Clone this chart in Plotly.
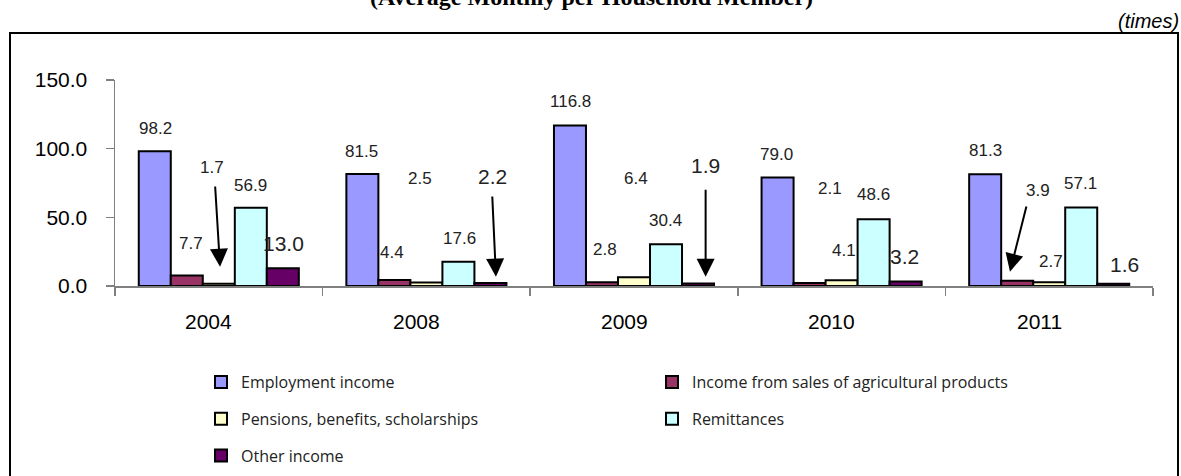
import plotly.graph_objects as go

# ---------------- data ----------------
categories = ["2004", "2008", "2009", "2010", "2011"]
employment = [98.2, 81.5, 116.8, 79.0, 81.3]
agricultural = [7.7, 4.4, 2.8, 2.1, 3.9]
pensions = [1.7, 2.5, 6.4, 4.1, 2.7]
remittances = [56.9, 17.6, 30.4, 48.6, 57.1]
other = [13.0, 2.2, 1.9, 3.2, 1.6]

series_names = [
    "Employment income",
    "Income from sales of agricultural products",
    "Pensions, benefits, scholarships",
    "Remittances",
    "Other income",
]
series_values = [employment, agricultural, pensions, remittances, other]

# ---------------- styles / label positions ----------------
colors = ["#9999FF", "#993366", "#FFFFCC", "#CCFFFF", "#660066"]
legend_ids = ["legend", "legend2", "legend", "legend2", "legend"]

# label placement: offset within category (category units) and y position
label_dx = [
    [-0.307, -0.312, -0.305, -0.316, -0.309],
    [-0.135, -0.165, -0.140, -0.056, -0.052],
    [-0.031, -0.031, 0.010, 0.011, 0.007],
    [0.154, 0.158, 0.154, 0.152, 0.150],
    [0.311, 0.319, 0.345, 0.305, 0.363],
]
label_y = [
    [114.8, 97.8, 134.2, 95.4, 99.0],
    [31.1, 24.3, 26.7, 71.1, 69.9],
    [86.4, 78.4, 78.4, 25.7, 17.7],
    [73.5, 34.7, 47.6, 66.3, 74.3],
    [31.1, 79.6, 87.4, 21.4, 16.0],
]
label_size = [17, 17, 17, 17, 21]

# arrows: (category index, tail dx, tail y, tip dx, tip y)
arrows = [
    (0, -0.018, 73.5, 0.006, 14.0),
    (1, 0.317, 66.3, 0.335, 6.8),
    (2, 0.345, 71.1, 0.345, 6.8),
    (4, -0.108, 59.0, -0.189, 10.4),
]

W, H = 1181, 476

fig = go.Figure()
for name, vals, col, lg in zip(series_names, series_values, colors, legend_ids):
    fig.add_trace(go.Bar(
        x=categories, y=vals, name=name,
        marker=dict(color=col, line=dict(color="black", width=2)),
        legend=lg, legendgroup=name,
        hoverinfo="skip",
    ))

annotations = []
for s, vals in enumerate(series_values):
    for i, v in enumerate(vals):
        annotations.append(dict(
            x=i + label_dx[s][i], y=label_y[s][i], xref="x", yref="y",
            text=f"{v:.1f}", showarrow=False,
            font=dict(family="Liberation Sans, Arial", size=label_size[s], color="#222222"),
        ))

for (i, tdx, ty, hdx, hy) in arrows:
    annotations.append(dict(
        x=i + hdx, y=hy, xref="x", yref="y",
        ax=i + tdx, ay=ty, axref="x", ayref="y",
        text="", showarrow=True, arrowhead=2, arrowsize=1.8,
        arrowwidth=2, arrowcolor="black", standoff=0, startstandoff=0,
    ))

# category labels (placed via annotations, slightly left of center as in reference)
for i, c in enumerate(categories):
    annotations.append(dict(
        x=i, y=0, xref="x", yref="y", yshift=-35, xshift=-10,
        text=c, showarrow=False,
        font=dict(family="Liberation Sans, Arial", size=21, color="black"),
    ))

# title (cut off at the top) and unit
annotations.append(dict(
    x=591 / W, y=1 + 3 / H, xref="paper", yref="paper", xanchor="center", yanchor="middle",
    text="<b>(Average Monthly per Household Member)</b>", showarrow=False,
    font=dict(family="Liberation Serif, Times New Roman", size=24, color="black"),
))
annotations.append(dict(
    x=1181 / W, y=1 - 21 / H, xref="paper", yref="paper", xanchor="right", yanchor="middle",
    text="<i>(times)</i>", showarrow=False,
    font=dict(family="Liberation Sans, Arial", size=20, color="black"),
))

legend_common = dict(
    orientation="v", bgcolor="rgba(0,0,0,0)", borderwidth=0,
    font=dict(family="Open Sans", size=16, color="#222222"),
    tracegroupgap=13, traceorder="grouped",
    xanchor="left", yanchor="top",
)

fig.update_layout(
    width=W, height=H,
    margin=dict(l=0, r=0, t=0, b=0, autoexpand=False),
    paper_bgcolor="white", plot_bgcolor="white",
    barmode="group", bargap=0.229, bargroupgap=0,
    annotations=annotations,
    shapes=[dict(type="rect", xref="paper", yref="paper",
                 x0=10 / W, x1=1178 / W, y0=-0.05, y1=1 - 33 / H,
                 line=dict(color="black", width=2), fillcolor="rgba(0,0,0,0)", layer="below")],
    xaxis=dict(
        domain=[115 / W, 1153 / W], type="category",
        showticklabels=False, showgrid=False,
        showline=True, linecolor="#808080", linewidth=1.5,
        ticks="outside", tickson="boundaries", ticklen=8, tickcolor="#808080", tickwidth=1.5,
    ),
    yaxis=dict(
        domain=[(H - 286) / H, (H - 80) / H], range=[0, 150],
        tickvals=[0, 50, 100, 150], ticktext=["0.0", "50.0", "100.0", "150.0"],
        showgrid=False, zeroline=False,
        showline=True, linecolor="#808080", linewidth=1.5,
        ticks="outside", ticklen=8, tickcolor="#808080", tickwidth=1.5,
        ticklabelstandoff=14,
        tickfont=dict(family="Liberation Sans, Arial", size=21, color="black"),
    ),
    legend=dict(x=201 / W, y=1 - 365 / H, **legend_common),
    legend2=dict(x=652 / W, y=1 - 365 / H, **legend_common),
    showlegend=True,
)

fig.write_html(
    "out.html",
    config={"displayModeBar": False, "staticPlot": True},
    post_script="document.body.style.margin='0px';document.body.style.overflow='hidden';",
)
